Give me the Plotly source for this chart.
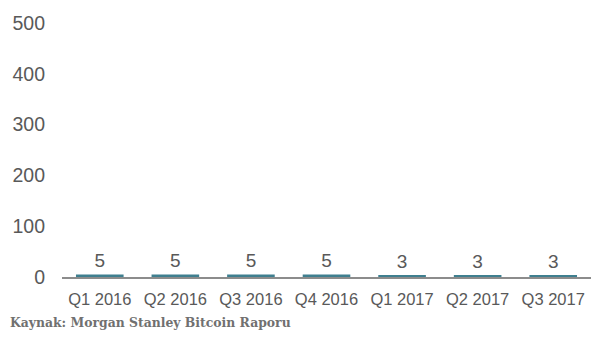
import plotly.graph_objects as go

categories = ["Q1 2016", "Q2 2016", "Q3 2016", "Q4 2016", "Q1 2017", "Q2 2017", "Q3 2017"]
values = [5, 5, 5, 5, 3, 3, 3]
y_ticks = [0, 100, 200, 300, 400, 500]
source = "Kaynak: Morgan Stanley Bitcoin Raporu"

fig = go.Figure(go.Bar(
    x=categories, y=values,
    marker=dict(color="#3f7f8f", line=dict(width=0)),
    width=0.63,
    text=[str(v) for v in values], textposition="outside",
    textfont=dict(family="Liberation Sans, Arial", size=19, color="#595959"),
    cliponaxis=False,
))

fig.update_layout(
    width=604, height=339,
    margin=dict(l=59, r=13, t=20, b=62),
    paper_bgcolor="white", plot_bgcolor="white",
    showlegend=False,
    xaxis=dict(showline=True, linecolor="#8c8c8c", linewidth=2, ticks="",
               tickfont=dict(family="Liberation Sans, Arial", size=16.5, color="#595959"),
               ticklabelstandoff=6, showgrid=False),
    yaxis=dict(range=[0, 500], tickvals=y_ticks, showgrid=False, zeroline=False,
               showline=False, ticks="",
               tickfont=dict(family="Liberation Sans, Arial", size=19.5, color="#595959"),
               ticklabelstandoff=16),
    annotations=[dict(text="<b>" + source + "</b>", xref="paper", yref="paper",
                      x=-54/532, y=-46/257, xanchor="left", yanchor="middle",
                      showarrow=False,
                      font=dict(family="DejaVu Serif, Georgia, serif", size=12.4, color="#707070"))],
)

fig.write_html("out.html")
